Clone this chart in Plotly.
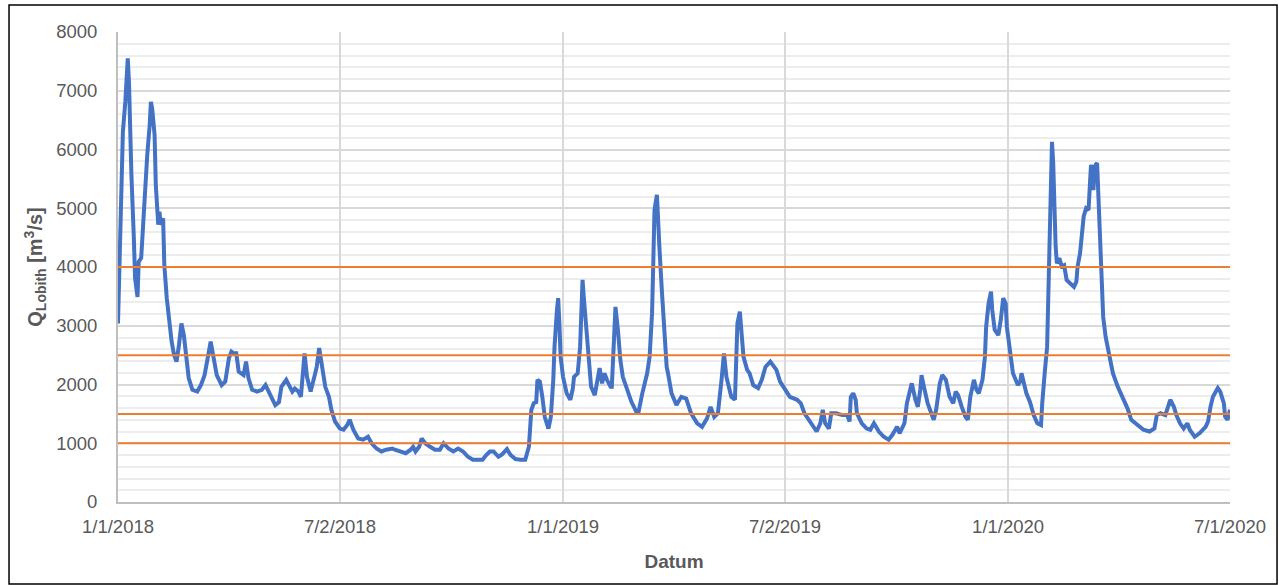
import pandas as pd
import plotly.graph_objects as go

# days since 1/1/2018 and discharge at Lobith (m3/s)
days = [0, 1, 3, 4, 6, 8, 9, 10, 11, 13, 14, 16, 17, 19, 21, 23, 24, 26, 27, 28,
        30, 31, 33, 34, 35, 37, 38, 40, 42, 44, 46, 48, 50, 52, 54, 56, 58, 61, 65, 68,
        71, 74, 76, 78, 81, 85, 88, 91, 93, 95, 97, 99, 103, 105, 107, 110, 114, 118, 121, 125,
        129, 132, 134, 138, 140, 143, 145, 148, 150, 152, 153, 155, 158, 161, 163, 165, 166, 168, 170, 173,
        175, 178, 182, 185, 188, 190, 193, 197, 201, 205, 208, 212, 216, 220, 225, 227, 231, 236, 240, 242,
        244, 247, 249, 252, 256, 260, 264, 267, 271, 275, 279, 283, 287, 291, 296, 299, 302, 305, 308, 312,
        315, 319, 322, 326, 330, 334, 337, 339, 341, 343, 344, 346, 348, 350, 353, 355, 357, 358, 360, 361,
        362, 363, 365, 368, 371, 373, 374, 377, 379, 380, 381, 382, 384, 386, 388, 391, 393, 395, 397, 399,
        401, 404, 405, 407, 408, 410, 412, 414, 417, 421, 425, 427, 430, 434, 436, 438, 439, 440, 442, 443,
        444, 446, 448, 450, 451, 454, 458, 462, 466, 470, 475, 479, 483, 486, 489, 492, 495, 497, 499, 501,
        503, 506, 507, 508, 510, 511, 513, 516, 518, 521, 525, 528, 531, 535, 537, 540, 543, 547, 551, 557,
        560, 563, 568, 573, 576, 578, 580, 583, 585, 589, 594, 598, 600, 601, 603, 605, 606, 610, 614, 617,
        620, 624, 628, 632, 635, 639, 641, 645, 647, 650, 651, 654, 656, 658, 659, 661, 664, 667, 669, 671,
        674, 676, 679, 682, 685, 687, 689, 692, 695, 697, 699, 702, 704, 706, 709, 711, 712, 714, 716, 717,
        719, 722, 724, 726, 728, 729, 732, 734, 738, 740, 741, 743, 745, 748, 751, 754, 757, 758, 759, 760,
        762, 763, 764, 766, 767, 768, 769, 770, 772, 774, 776, 778, 781, 784, 786, 787, 789, 790, 792, 794,
        796, 797, 798, 800, 801, 803, 804, 805, 807, 808, 810, 813, 816, 820, 824, 828, 831, 836, 841, 846,
        850, 852, 855, 859, 861, 863, 866, 868, 871, 874, 877, 879, 883, 887, 892, 894, 896, 898, 902, 904,
        907, 908, 910, 912]
discharge = [3040, 4030, 5400, 6300, 6810, 7550, 7150, 6300, 5570, 4490, 3810, 3490, 4090, 4150, 4940, 5740, 5910, 6420, 6810, 6700,
             6250, 5400, 4720, 4940, 4720, 4830, 4030, 3470, 3010, 2730, 2500, 2390, 2670, 3040, 2840, 2450, 2110, 1910, 1880, 1990,
             2160, 2500, 2730, 2500, 2160, 1990, 2050, 2450, 2560, 2530, 2530, 2220, 2160, 2390, 2110, 1910, 1880, 1910, 1990, 1820,
             1650, 1700, 1960, 2080, 1990, 1880, 1930, 1880, 1790, 2450, 2530, 2130, 1880, 2130, 2300, 2620, 2470, 2250, 1960, 1790,
             1570, 1370, 1250, 1230, 1310, 1400, 1230, 1080, 1060, 1110, 1000, 910, 860, 890, 910, 890, 860, 830, 890, 940,
             860, 940, 1080, 1000, 940, 890, 890, 1000, 910, 860, 910, 860, 770, 720, 720, 720, 800, 860, 860, 770,
             810, 900, 800, 730, 720, 720, 940, 1570, 1680, 1700, 2080, 2050, 1790, 1450, 1250, 1450, 2080, 2640, 3270, 3470,
             3040, 2470, 2130, 1850, 1740, 1930, 2130, 2190, 2640, 3320, 3780, 3490, 2930, 2360, 1960, 1820, 2080, 2280, 2020, 2190,
             2080, 1960, 1960, 3040, 3320, 2930, 2420, 2130, 1960, 1710, 1540, 1540, 1850, 2190, 2470, 3210, 4060, 4970, 5230, 4910,
             4350, 3610, 2870, 2300, 2200, 1850, 1650, 1790, 1760, 1510, 1340, 1280, 1420, 1620, 1450, 1510, 2080, 2530, 2130, 1960,
             1790, 1740, 2300, 3040, 3240, 2980, 2470, 2250, 2190, 1990, 1940, 2080, 2300, 2390, 2330, 2250, 2050, 1910, 1790, 1740,
             1680, 1510, 1340, 1200, 1340, 1570, 1340, 1250, 1510, 1510, 1480, 1480, 1370, 1790, 1850, 1740, 1510, 1340, 1250, 1230,
             1340, 1200, 1110, 1060, 1140, 1280, 1170, 1340, 1680, 1990, 2020, 1740, 1620, 1910, 2160, 1960, 1680, 1510, 1400, 1570,
             2020, 2160, 2080, 1790, 1680, 1880, 1820, 1620, 1450, 1400, 1790, 2080, 1910, 1850, 2080, 2470, 2980, 3380, 3580, 3270,
             2930, 2840, 3100, 3470, 3380, 2980, 2530, 2190, 1990, 2050, 2190, 1990, 1850, 1700, 1480, 1340, 1310, 1680, 2080, 2190,
             2640, 3500, 5000, 6130, 5770, 4700, 4350, 4060, 4150, 4010, 4030, 3780, 3720, 3660, 3750, 4010, 4230, 4460, 4860, 5000,
             4970, 5370, 5740, 5310, 5710, 5770, 5250, 4400, 3660, 3150, 2810, 2530, 2190, 1960, 1790, 1590, 1400, 1310, 1230, 1200,
             1250, 1480, 1510, 1480, 1590, 1740, 1620, 1480, 1340, 1250, 1340, 1230, 1110, 1170, 1280, 1370, 1620, 1790, 1940, 1880,
             1680, 1450, 1400, 1570]

thresholds = [1000, 1500, 2500, 4000]

tick_dates = ["2018-01-01", "2018-07-02", "2019-01-01", "2019-07-02", "2020-01-01", "2020-07-01"]
tick_labels = ["1/1/2018", "7/2/2018", "1/1/2019", "7/2/2019", "1/1/2020", "7/1/2020"]

dates = pd.Timestamp("2018-01-01") + pd.to_timedelta(days, unit="D")

fig = go.Figure()
fig.add_trace(go.Scatter(x=dates, y=discharge, mode="lines",
                         line=dict(color="#4472C4", width=4), showlegend=False))

for t in thresholds:
    fig.add_trace(go.Scatter(x=[tick_dates[0], tick_dates[-1]], y=[t, t], mode="lines",
                             line=dict(color="#ED7D31", width=2), showlegend=False))

# black frame round the whole chart
fig.add_shape(type="rect", xref="paper", yref="paper",
              x0=-0.098, x1=1.0423, y0=-0.1745, y1=1.0574,
              line=dict(color="black", width=1.5))

fig.update_layout(
    width=1279, height=585,
    margin=dict(l=118, r=49, t=32, b=83),
    paper_bgcolor="white", plot_bgcolor="white",
    font=dict(family="Liberation Sans, Arial, sans-serif", size=18.5, color="#595959"),
)
fig.update_xaxes(
    range=[tick_dates[0], tick_dates[-1]],
    tickvals=tick_dates, ticktext=tick_labels,
    showgrid=True, gridcolor="#D9D9D9", gridwidth=2,
    showline=True, linecolor="#BFBFBF", linewidth=2,
    ticks="", ticklabelstandoff=7, zeroline=False,
    title=dict(text="<b>Datum</b>", font=dict(size=19, color="#595959"), standoff=18),
)
fig.update_yaxes(
    range=[0, 8000], dtick=1000, tick0=0,
    showgrid=True, gridcolor="#D9D9D9", gridwidth=2,
    minor=dict(dtick=200, showgrid=True, gridcolor="#EDEDED", gridwidth=2),
    showline=True, linecolor="#BFBFBF", linewidth=2,
    ticks="", ticklabelstandoff=15, zeroline=False,
    title=dict(text="<b>Q<sub>Lobith</sub> [m<sup>3</sup>/s]</b>", font=dict(size=20, color="#595959"), standoff=8),
)

# drop the page's default body margin so the figure sits at the window corner
fig.write_html("out.html", config={"displayModeBar": False},
               post_script="document.body.style.margin='0';")
